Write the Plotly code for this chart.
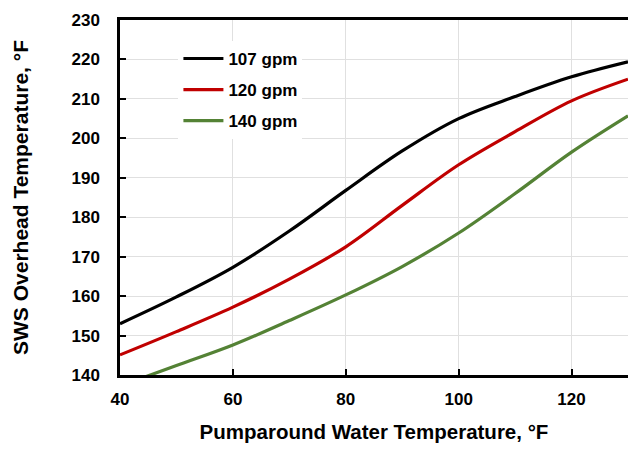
import plotly.graph_objects as go

x_vals = [40, 50, 60, 70, 80, 90, 100, 110, 120, 130]
gpm107 = [153.0, 159.8, 167.3, 176.5, 186.8, 196.8, 205.0, 210.6, 215.6, 219.4]
gpm120 = [145.1, 151.0, 157.2, 164.3, 172.5, 183.0, 193.3, 201.7, 209.5, 215.0]
gpm140 = [137.2, 142.4, 147.6, 153.8, 160.3, 167.5, 176.0, 186.0, 196.5, 205.7]
series_names = ["107 gpm", "120 gpm", "140 gpm"]
series_colors = ["#000000", "#C00000", "#548235"]

fig = go.Figure()
for i, (name, ys, col) in enumerate(zip(series_names, [gpm107, gpm120, gpm140], series_colors)):
    fig.add_trace(go.Scatter(
        x=x_vals, y=ys, mode="lines", name=name, legendgroup=f"g{i}",
        line=dict(color=col, width=3.2, shape="spline", smoothing=1.0),
    ))

font_family = "Liberation Sans, Arial, sans-serif"
fig.update_layout(
    width=620, height=435,
    margin=dict(l=112, r=0, t=12, b=68),
    paper_bgcolor="white", plot_bgcolor="white",
    font=dict(family=font_family, color="#000000"),
    showlegend=True,
    legend=dict(
        x=0.115, y=0.941, xanchor="left", yanchor="top",
        font=dict(family=font_family, size=17, color="#000000", weight="bold"),
        bgcolor="rgba(255,255,255,1)", traceorder="grouped", tracegroupgap=6,
        itemwidth=40,
    ),
)
fig.update_xaxes(
    range=[40, 130], tickvals=[40, 60, 80, 100, 120], automargin=False,
    ticks="inside", ticklen=6, tickwidth=2, tickcolor="#000000",
    ticklabelstandoff=7,
    showline=True, linewidth=2.5, linecolor="#000000", mirror=True,
    showgrid=True, gridcolor="#E0E0E0", gridwidth=1, zeroline=False,
    tickfont=dict(family=font_family, size=17, weight="bold"),
    title=dict(text="Pumparound Water Temperature, °F", standoff=17,
               font=dict(family=font_family, size=20.5, weight="bold")),
)
fig.update_yaxes(
    range=[140, 230], dtick=10, automargin=False,
    ticks="inside", ticklen=6, tickwidth=2, tickcolor="#000000",
    ticklabelstandoff=14,
    showline=True, linewidth=2.5, linecolor="#000000", mirror=True,
    showgrid=True, gridcolor="#E0E0E0", gridwidth=1, zeroline=False,
    tickfont=dict(family=font_family, size=17, weight="bold"),
    title=dict(text="SWS Overhead Temperature, °F", standoff=38,
               font=dict(family=font_family, size=21, weight="bold")),
)

fig.write_html("out.html")
